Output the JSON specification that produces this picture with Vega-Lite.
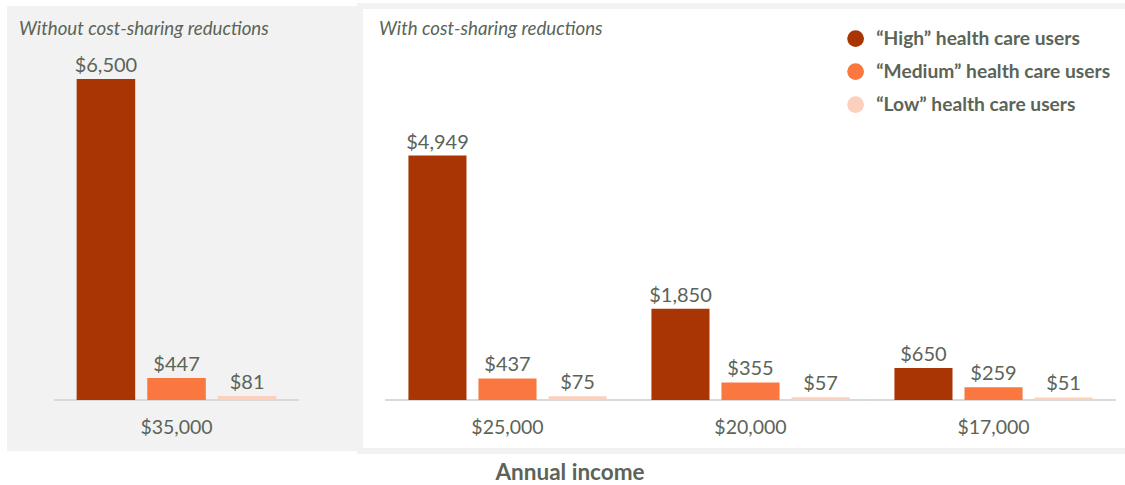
{
  "$schema": "https://vega.github.io/schema/vega-lite/v6.json",
  "padding": {"left": 7, "top": 3, "right": 0, "bottom": 0},
  "background": "white",
  "spacing": 0,
  "title": {"text": "Annual income", "orient": "bottom", "anchor": "middle", "fontSize": 22.5, "fontWeight": "bold", "color": "#5b6458", "font": "Lato", "offset": 8, "dx": 1},
  "data": {"values": [
    {"panel": "without", "income": "$35,000", "user": "“High” health care users", "cost": 6500},
    {"panel": "without", "income": "$35,000", "user": "“Medium” health care users", "cost": 447},
    {"panel": "without", "income": "$35,000", "user": "“Low” health care users", "cost": 81},
    {"panel": "with", "income": "$25,000", "user": "“High” health care users", "cost": 4949},
    {"panel": "with", "income": "$25,000", "user": "“Medium” health care users", "cost": 437},
    {"panel": "with", "income": "$25,000", "user": "“Low” health care users", "cost": 75},
    {"panel": "with", "income": "$20,000", "user": "“High” health care users", "cost": 1850},
    {"panel": "with", "income": "$20,000", "user": "“Medium” health care users", "cost": 355},
    {"panel": "with", "income": "$20,000", "user": "“Low” health care users", "cost": 57},
    {"panel": "with", "income": "$17,000", "user": "“High” health care users", "cost": 650},
    {"panel": "with", "income": "$17,000", "user": "“Medium” health care users", "cost": 259},
    {"panel": "with", "income": "$17,000", "user": "“Low” health care users", "cost": 51}
  ]},
  "hconcat": [
    {
      "width": 350,
      "height": 445,
      "view": {"fill": "#f2f2f2", "stroke": null},
      "title": {"text": "Without cost-sharing reductions", "anchor": "start", "fontStyle": "italic", "fontWeight": "normal", "fontSize": 18.7, "color": "#5b6458", "font": "Lato", "dx": 12, "offset": -33},
      "transform": [{"filter": "datum.panel === 'without'"}],
      "encoding": {
        "x": {"field": "income", "type": "nominal", "sort": null,
          "scale": {"paddingInner": 0, "paddingOuter": 0.2143, "align": 0.448},
          "axis": {"title": null, "orient": "bottom", "offset": -51, "domain": false, "ticks": false, "labelFontSize": 19.5, "labelColor": "#5b6458", "labelFont": "Lato", "labelPadding": 18, "labelAngle": 0}},
        "y": {"field": "cost", "type": "quantitative", "scale": {"domain": [-1033, 7978], "nice": false, "zero": false}, "axis": null}
      },
      "layer": [
        {"mark": {"type": "tick", "orient": "horizontal", "size": 245, "thickness": 2, "color": "#d9d9d9", "opacity": 1},
         "encoding": {"y": {"datum": 0}}},
        {"mark": {"type": "bar"},
         "encoding": {
           "y2": {"datum": 0},
           "xOffset": {"field": "user", "type": "nominal", "sort": ["“High” health care users", "“Medium” health care users", "“Low” health care users"], "scale": {"paddingInner": 0.171, "paddingOuter": 0.32}},
           "color": {"field": "user", "type": "nominal", "scale": {"domain": ["“High” health care users", "“Medium” health care users", "“Low” health care users"], "range": ["#a93505", "#fa773f", "#fdcfbd"]},
             "legend": {"orient": "none", "legendX": 839, "legendY": 23, "title": null, "symbolType": "circle", "symbolSize": 283, "symbolStrokeWidth": 0, "labelFontSize": 19.2, "labelFontWeight": "bold", "labelColor": "#5b6458", "labelFont": "Lato", "labelOffset": 11, "labelLimit": 0, "rowPadding": 13, "padding": 0}}
         }},
        {"mark": {"type": "text", "baseline": "alphabetic", "dy": -7, "fontSize": 20, "color": "#5b6458", "font": "Lato"},
         "encoding": {
           "xOffset": {"field": "user", "type": "nominal", "sort": ["“High” health care users", "“Medium” health care users", "“Low” health care users"], "scale": {"paddingInner": 0.171, "paddingOuter": 0.32}},
           "text": {"field": "cost", "type": "quantitative", "format": "$,.0f"}
         }}
      ]
    },
    {
      "width": 768,
      "height": 445,
      "view": {"fill": "white", "stroke": "#f2f2f2", "strokeWidth": 6},
      "title": {"text": "With cost-sharing reductions", "anchor": "start", "fontStyle": "italic", "fontWeight": "normal", "fontSize": 18.7, "color": "#5b6458", "font": "Lato", "dx": 19, "offset": -33},
      "transform": [{"filter": "datum.panel === 'with'"}],
      "encoding": {
        "x": {"field": "income", "type": "nominal", "sort": null,
          "scale": {"paddingInner": 0, "paddingOuter": 0.0802, "align": 0.667},
          "axis": {"title": null, "orient": "bottom", "offset": -51, "domain": false, "ticks": false, "labelFontSize": 19.5, "labelColor": "#5b6458", "labelFont": "Lato", "labelPadding": 18, "labelAngle": 0}},
        "y": {"field": "cost", "type": "quantitative", "scale": {"domain": [-1033, 7978], "nice": false, "zero": false}, "axis": null}
      },
      "layer": [
        {"mark": {"type": "tick", "orient": "horizontal", "size": 244, "thickness": 2, "color": "#d9d9d9", "opacity": 1},
         "encoding": {"y": {"datum": 0}}},
        {"mark": {"type": "bar"},
         "encoding": {
           "y2": {"datum": 0},
           "xOffset": {"field": "user", "type": "nominal", "sort": ["“High” health care users", "“Medium” health care users", "“Low” health care users"], "scale": {"paddingInner": 0.171, "paddingOuter": 0.32}},
           "color": {"field": "user", "type": "nominal", "scale": {"domain": ["“High” health care users", "“Medium” health care users", "“Low” health care users"], "range": ["#a93505", "#fa773f", "#fdcfbd"]}}
         }},
        {"mark": {"type": "text", "baseline": "alphabetic", "dy": -7, "fontSize": 20, "color": "#5b6458", "font": "Lato"},
         "encoding": {
           "xOffset": {"field": "user", "type": "nominal", "sort": ["“High” health care users", "“Medium” health care users", "“Low” health care users"], "scale": {"paddingInner": 0.171, "paddingOuter": 0.32}},
           "text": {"field": "cost", "type": "quantitative", "format": "$,.0f"}
         }}
      ]
    }
  ],
  "resolve": {"scale": {"x": "independent", "y": "independent", "xOffset": "independent"}},
  "config": {"font": "Lato", "view": {"continuousWidth": 300}}
}
